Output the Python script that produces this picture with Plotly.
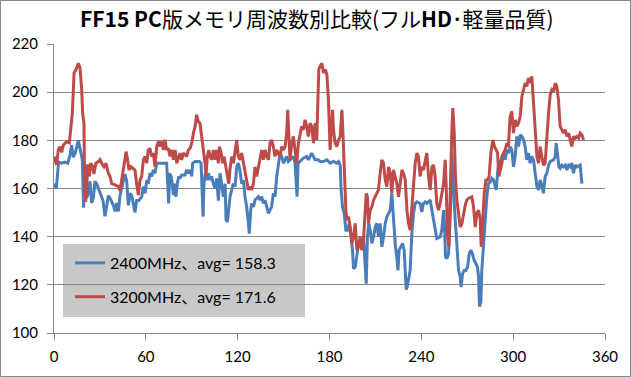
import plotly.graph_objects as go

title_html = "<b>FF15 PC</b>版メモリ周波数別比較(フル<b>HD</b>･軽量品質)"
series_names = ["2400MHz、avg= 158.3", "3200MHz、avg= 171.6"]
x_ticks = [0, 60, 120, 180, 240, 300, 360]
y_ticks = [100, 120, 140, 160, 180, 200, 220]

blue_x = [0, 1.5, 3, 5, 7, 9, 10.5, 11.5, 12.6, 14, 15.9, 17.4, 18.5, 19.3, 20.3, 21.3, 22.4, 23.5, 24.6, 25.7,
          26.8, 27.9, 30, 32, 33.3, 34.4, 35.5, 36.6, 38.8, 39.9, 41, 42.1, 43.1, 44.2, 46.4, 47.5, 48.6, 49.7,
          50.8, 52.9, 54, 55.5, 57.3, 58.4, 59.5, 60.6, 61.6, 62.7, 63.8, 64.9, 66, 67.1, 69.3, 71.5, 73.6,
          74.3, 74.9, 75.6, 76.5, 77.3, 78, 78.6, 79.7, 80.6, 81.5, 82.3, 83.4, 85.6, 86.7, 87.8, 88.9, 90,
          90.6, 92.2, 95, 96.1, 96.7, 97.4, 98, 98.9, 99.8, 100.9, 102, 103, 104.1, 105.2, 106.3, 107.4, 108.5,
          109.6, 110.7, 111.8, 112.4, 113.3, 114.2, 115, 116.1, 117.2, 118.3, 119.4, 120.4, 121.5, 122.6, 123.7,
          124.8, 125.9, 127, 127.6, 128.5, 129.2, 130.3, 131.3, 133.5, 134.6, 135.7, 136.8, 137.9, 139, 140.1,
          141.1, 142.2, 143.3, 144.4, 145.5, 146.6, 147.7, 148.8, 149.9, 151, 152, 153.1, 156.4, 157.5, 158.1,
          158.8, 159.5, 161.8, 162.9, 165.1, 166.2, 168.4, 169.5, 170.6, 172.7, 173.9, 176.1, 178.3, 180.4,
          182.6, 184.8, 185.9, 187, 187.6, 188.5, 189.6, 190.7, 191.8, 192.9, 193.9, 195, 195.7, 196.8, 197.9,
          199, 200, 201.1, 202.2, 203.3, 204, 204.8, 205.7, 206.6, 207.7, 208.8, 209.9, 210.9, 212, 213.1,
          214.2, 215.3, 216.4, 217.5, 218.6, 219.7, 220.7, 221.4, 222.3, 223.1, 224, 224.7, 225.5, 226.6,
          227.7, 228.8, 229.5, 230.1, 231, 231.9, 232.7, 233.8, 234.9, 236, 237.1, 239.2, 240.3, 241.4, 242.5,
          243.6, 244.7, 245.8, 246.9, 248, 249, 250.1, 252.3, 253.4, 254.5, 255.1, 255.8, 256.7, 257.8, 258.9,
          259.9, 260.6, 261.5, 262.3, 263.2, 264.3, 265.4, 266, 266.9, 268, 269.1, 270.2, 271.3, 272.4, 273.4,
          274.5, 276.7, 277.4, 278, 278.9, 279.5, 280.6, 281.7, 282.8, 283.9, 285, 286.1, 287.2, 288.3, 288.9,
          289.8, 290.7, 291.5, 292.6, 293.7, 294.8, 295.9, 296.9, 298, 299.1, 300.2, 301.3, 302.4, 303.5, 304.6,
          305.7, 306.8, 307.8, 308.9, 310, 311.1, 312.2, 313.3, 314.4, 315.5, 316.6, 317.6, 318.7, 319.8, 320.9,
          322, 323.1, 324.2, 326.4, 327.5, 328.1, 329, 329.9, 330.7, 331.8, 332.9, 334, 335.1, 336.2, 337.3,
          338.3, 339.4, 340.5, 341.6, 343.8, 344.9]
blue_y = [162, 160, 171, 170.5, 171, 170.5, 174, 178, 173, 175, 180, 175, 172, 152, 163, 156, 158, 163, 154, 156,
          163, 162, 158, 155, 148.5, 152, 157, 156, 153, 150.5, 154, 150.5, 157, 160, 166, 163, 153, 158,
          157, 150, 155, 155, 156.6, 160.8, 158, 163.5, 162, 166.3, 165, 167.7, 166.3, 170.5, 170.5, 170.5, 170.5,
          162, 153.8, 166.3, 165, 162, 157.3, 162, 156.6, 162, 165, 164.2, 165.6, 165.6, 167.7, 166.3, 167.7, 165,
          170.5, 171.2, 171.2, 170.5, 162, 148.3, 162, 166.3, 163.5, 166.3, 163.5, 165, 162, 160, 164.2, 155, 166.3,
          162, 156.6, 162, 146.9, 146.2, 151, 156.6, 159.4, 162, 160.8, 169, 170.5, 167.7, 162, 163.5,
          156.6, 152.4, 145.5, 141.3, 151, 153.8, 152.4, 155.2, 156.6, 155.2, 156.6, 153.8, 155.2, 152.4, 149.7,
          151, 152.4, 158, 156.6, 165, 170.5, 174.7, 173.3, 170.5, 171.9, 173.3, 171.2, 173.3, 170.5, 162,
          156.6, 170.5, 171.9, 172.6, 173.3, 171.9, 174.7, 173.3, 171.9, 171.9, 171.2, 171.2, 171.9, 170.5,
          171.2, 170.5, 171.2, 169.7, 159.4, 152.4, 149.7, 142.7, 142.7, 145.5, 141.3, 134.4, 126.7, 127.4, 131.6,
          137.2, 138.5, 137.2, 140, 128.8, 120.5, 140, 145.5, 142.7, 137.2, 140, 144, 145.5, 140, 145.5,
          135.8, 140, 145.5, 148.3, 149.7, 151, 158, 151, 140, 135.8, 131.6, 126, 134.4, 135.8,
          137.2, 134.4, 126, 118, 120, 124, 126, 141.3, 149.7, 153.8, 154.5, 153.8, 150.3, 153.8, 154.5,
          153.8, 154.5, 155.2, 151, 146.9, 142.7, 139.2, 139.9, 142.7, 151, 145.5, 131.6, 130.9, 133, 148.3,
          174.7, 167.7, 153.8, 145.5, 135.8, 126, 123.3, 119.1, 124.6, 126, 126, 127.4, 132.9, 134.4, 132.9,
          130.2, 127.4, 123.3, 111, 113, 126, 137.2, 148.3, 156.6, 162, 162.7, 164.2, 163.5, 160.8, 159.4,
          166.3, 171.9, 169, 173.3, 174.7, 171.9, 176, 174.7, 177.4, 176, 169, 173.3, 181.6, 177.4, 182.3,
          181.6, 180.2, 177.4, 171.9, 174.7, 170.5, 173.3, 171.9, 166.3, 160.8, 159.4, 163.5, 161.5, 158, 165,
          166.3, 169.7, 171.2, 171.9, 173.3, 178.8, 173.3, 169, 168.4, 169.7, 169, 169.7, 167.7, 169.7, 169,
          170.5, 166.3, 169.7, 169, 169.7, 162]

red_x = [0, 1.7, 2.8, 3.9, 5, 6.1, 8.3, 10, 10.9, 12, 13.1, 14.4, 15.9, 17, 18.1, 18.7, 19.6, 19.8, 20.7, 21.3,
         22, 23.1, 24, 25.3, 26.1, 27.4, 29, 30.1, 31.2, 32.7, 34, 35.5, 36.6, 37.7, 39.9, 42.1, 43.1, 44.2,
         45.7, 47.1, 48.1, 49, 50.3, 51.8, 52.9, 54, 55.1, 56.2, 57.3, 58.4, 59.5, 60.6, 61.6, 62.7, 63.8, 64.9,
         66, 67.1, 68.2, 69.3, 70.4, 71.5, 72.5, 73.6, 74.7, 75.8, 76.9, 78, 79.1, 80.2, 81.3, 82.3, 83.4, 84.5,
         86.7, 87.8, 88.9, 90, 91.1, 92.2, 93.2, 94.3, 95.4, 96.5, 97.6, 98.7, 99.3, 100.2, 101.1, 102, 103,
         104.1, 105.2, 106.3, 107.4, 108.1, 109.2, 110.2, 111.1, 112.4, 113.3, 114.2, 115, 116.1, 117.2, 118.3,
         119.4, 120.4, 121.5, 122.6, 123.7, 124.8, 125.9, 127, 128.1, 129.2, 130.3, 131.3, 132.4, 133.5, 134.6,
         135.7, 136.8, 137.9, 139, 140.1, 141.1, 142.2, 143.3, 144.4, 145.5, 146.6, 147.7, 148.8, 149.9, 151,
         152, 152.7, 153.6, 154.2, 155.3, 156.4, 157.5, 158.6, 159.7, 160.8, 161.8, 162.9, 164, 165.1, 166.2,
         167.3, 168.4, 169.5, 170.6, 171.7, 172.3, 173, 173.9, 175, 176.1, 177.2, 178.3, 179.3, 180.4, 181.1,
         182, 182.6, 183.7, 184.8, 185.9, 187, 188.1, 188.7, 189.6, 190.7, 191.3, 192.4, 193.5, 194.6, 195.7,
         196.8, 197.9, 199, 200, 201.1, 202.2, 203.3, 204, 204.8, 205.5, 206.6, 207.7, 208.8, 209.9, 210.9,
         212, 213.1, 214.2, 215.3, 216.4, 217.5, 218.6, 219.7, 220.7, 221.8, 222.9, 224, 225.1, 226.2, 227.3,
         228.4, 229.5, 230.6, 231.6, 232.7, 233.8, 234.9, 236, 237.1, 238.1, 239.2, 240.3, 241.4, 242.5, 243.6,
         244.7, 245.8, 246.9, 248, 249, 250.1, 251.2, 252.3, 254.5, 255.6, 256.2, 257.1, 258, 258.9, 259.9,
         260.6, 261.5, 262.3, 263.2, 264.3, 265.4, 266.5, 267.6, 268.7, 269.7, 270.8, 273, 274.1, 275.2, 276.3,
         277.4, 278.5, 279.1, 280, 281.1, 282.2, 283.3, 284.3, 285.4, 286.7, 287.8, 288.9, 289.8, 290.7, 291.5,
         292.6, 293.7, 294.8, 295.9, 296.9, 298, 299.1, 300.2, 301.3, 302.4, 303.5, 304.6, 305.7, 306.8, 307.8,
         308.9, 310, 311.1, 312.2, 313.3, 314.4, 315.5, 316.6, 317.6, 318.7, 319.8, 320.9, 322, 323.1, 324.2,
         325.3, 326.4, 327.5, 328.5, 329.6, 330.7, 331.8, 332.9, 334, 335.1, 336.2, 337.3, 338.3, 339.4, 340.5,
         341.6, 342.7, 343.8, 344.9, 346]
red_y = [173.3, 169.8, 176, 177.4, 175, 178, 179.5, 179, 184.4, 191.3, 208, 209.4, 212, 210, 201, 191.3, 187, 172, 154.5, 159,
         170, 165, 170.5, 169, 166, 170.5, 171.2, 172, 170.5, 169, 170.5, 166.3, 165, 162, 161.5, 160.8, 159, 163,
         169, 175.3, 171.9, 167.7, 169, 168.4, 167.7, 162, 157.3, 163.5, 165, 171.9, 173.3, 170.5, 176, 176.7, 173.3, 174.7,
         169, 177.4, 179.5, 177.4, 179.5, 176, 180.2, 176, 176.7, 173.3, 176, 171.9, 176, 170.5, 173.3, 174.7, 171.9, 174.7,
         173.3, 176, 176.7, 178.8, 183, 185.8, 190.6, 187.8, 187, 181.6, 177.4, 170.5, 165, 173.3, 176, 173.3, 171.9,
         176, 171.9, 176, 170.5, 177.4, 174.7, 170.5, 173.3, 167.7, 165, 162, 168, 173.3, 170.5, 176,
         180.2, 173.3, 171.9, 174.7, 170.5, 167.7, 162, 159.4, 160.8, 159.4, 162, 169, 165, 169, 173.3,
         176, 171.9, 176, 173.3, 171.9, 178.8, 180.2, 177.4, 173.3, 176, 174.7, 173.3, 177.4, 176, 177.4,
         183, 192.7, 183, 171.9, 178.8, 181.6, 176, 170.5, 178.8, 183, 185.8, 184.4, 188.5, 185.8, 181.6,
         187.1, 185.8, 178.8, 187.1, 180.2, 196.9, 209.4, 210.8, 212, 208, 209.4, 207.3, 196.9, 176, 185.8,
         192.7, 184.4, 178.8, 177.4, 180.2, 181.6, 192.7, 184.4, 165, 151, 146.9, 148.3, 144, 137.2, 140,
         145.5, 134.4, 135.8, 140, 134.4, 138.5, 151, 158, 156.6, 145.5, 151, 152.4, 155.2, 156.6, 158,
         159.4, 166.3, 171.9, 170.5, 163.5, 160.8, 169, 166.3, 158, 167.7, 165, 162, 156.6, 163.5, 167.7,
         166.3, 163.5, 151, 145.5, 142.7, 152.4, 165, 170.5, 174.7, 173.3, 165, 169, 167.7, 171.9, 174.7,
         165, 159.4, 169, 169.7, 165, 153.8, 151, 153.8, 162, 171.9, 162, 140, 135.8, 162, 183,
         193.4, 183, 165, 155.2, 149.7, 144, 145.5, 149.7, 153.1, 155.2, 155.9, 156.6, 152.4, 144, 149.7,
         151, 146.9, 135.8, 145.5, 158, 163.5, 163.5, 165, 174.7, 180.2, 177.4, 176, 174.7, 165, 167,
         170.5, 174.7, 176, 178.8, 177.4, 189.9, 192, 183, 188.5, 185.8, 187.1, 189.9, 198.3, 201, 203.8,
         202.4, 205.9, 203.8, 206.6, 195.5, 183, 173.3, 170.5, 177.4, 173.3, 169.7, 170.5, 183, 191.3, 199,
         201, 200.3, 203.8, 202.4, 196.9, 185.8, 184.4, 183, 184.4, 181.6, 183, 180.2, 177.4, 181.6, 180.9,
         181.6, 180.9, 183, 182.3, 180.2]

W, H = 631, 377
L, R, T, B = 54, 26, 44, 44
PW, PH = W - L - R, H - T - B

def px_to_paper_x(px):
    return (px - L) / PW

def px_to_paper_y(py):
    return (H - B - py) / PH

grid_col = "#868686"
font_main = "Lato, 'Noto Sans CJK JP', sans-serif"

fig = go.Figure()
fig.add_trace(go.Scatter(x=blue_x, y=blue_y, mode="lines", name=series_names[0], legendgroup="a",
                         line=dict(color="#4A7EBB", width=3)))
fig.add_trace(go.Scatter(x=red_x, y=red_y, mode="lines", name=series_names[1], legendgroup="b",
                         line=dict(color="#BE4B48", width=3)))

shapes = [
    dict(type="rect", xref="paper", yref="paper", layer="below",
         x0=px_to_paper_x(63), x1=px_to_paper_x(305), y0=px_to_paper_y(317), y1=px_to_paper_y(244),
         fillcolor="#c8c8c8", line=dict(width=0)),
    dict(type="rect", xref="paper", yref="paper", layer="below",
         x0=px_to_paper_x(0.5), x1=px_to_paper_x(630.5), y0=px_to_paper_y(376.5), y1=px_to_paper_y(0.5),
         fillcolor="rgba(0,0,0,0)", line=dict(color=grid_col, width=1)),
]

fig.update_layout(
    width=W, height=H,
    margin=dict(l=L, r=R, t=T, b=B, pad=0),
    paper_bgcolor="white", plot_bgcolor="rgba(0,0,0,0)",
    title=dict(text=title_html, x=0.502, xanchor="center", y=1 - 20 / H, yanchor="middle",
               font=dict(family="'Noto Sans CJK JP', sans-serif", size=21, color="black")),
    showlegend=True,
    legend=dict(x=px_to_paper_x(70), y=px_to_paper_y(246), xanchor="left", yanchor="top",
                bgcolor="rgba(0,0,0,0)", borderwidth=0, tracegroupgap=10, traceorder="grouped",
                font=dict(family=font_main, size=16, color="black")),
    shapes=shapes,
    xaxis=dict(range=[0, 360], tickvals=x_ticks, ticks="outside", ticklen=6, tickcolor=grid_col,
               showline=True, linecolor=grid_col, linewidth=1, showgrid=False, zeroline=False,
               tickfont=dict(family=font_main, size=15, color="black"), ticklabelstandoff=4),
    yaxis=dict(range=[100, 220], tickvals=y_ticks, ticks="outside", ticklen=6, tickcolor=grid_col,
               showline=True, linecolor=grid_col, linewidth=1, showgrid=True, gridcolor=grid_col,
               gridwidth=1, zeroline=False,
               tickfont=dict(family=font_main, size=15, color="black"), ticklabelstandoff=6),
)

fig.write_html("out.html", config={"displayModeBar": False},
               post_script="document.body.style.margin='0';document.body.style.padding='0';")
